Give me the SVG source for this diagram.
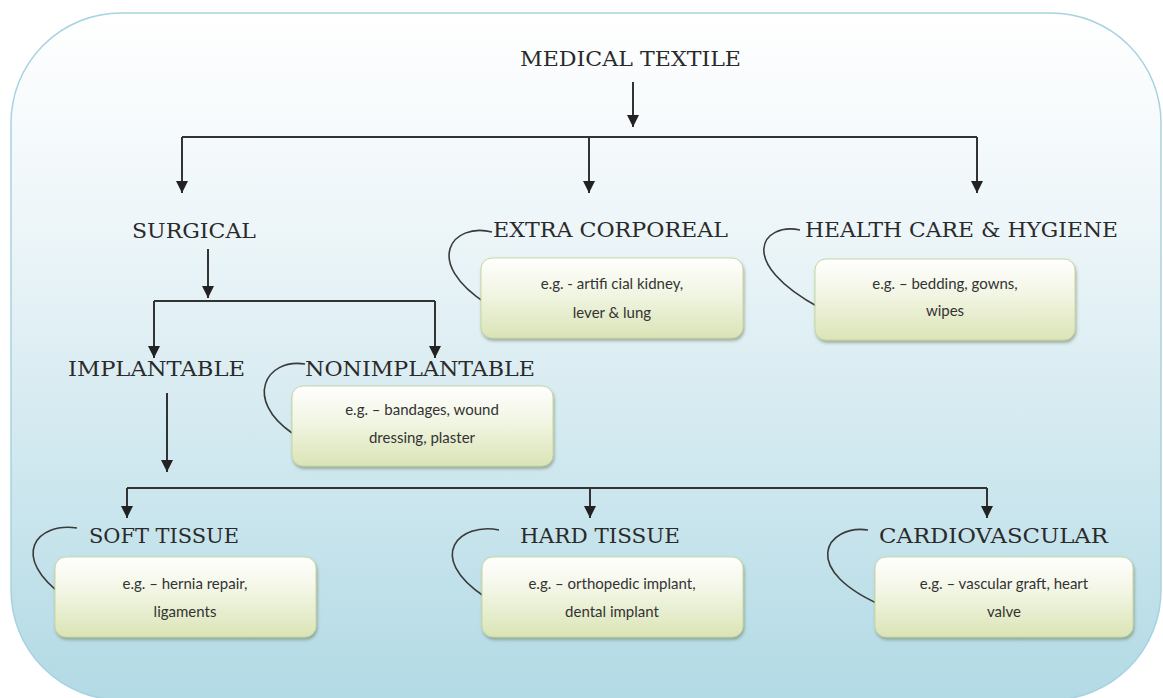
<svg xmlns="http://www.w3.org/2000/svg" width="1163" height="698" viewBox="0 0 1163 698">
<defs>
<linearGradient id="bg" x1="0" y1="0" x2="0" y2="1">
<stop offset="0" stop-color="#ffffff"/>
<stop offset="0.3" stop-color="#eef6f9"/>
<stop offset="1" stop-color="#b2dae5"/>
</linearGradient>
<linearGradient id="boxg" x1="0" y1="0" x2="0" y2="1">
<stop offset="0" stop-color="#ffffff"/>
<stop offset="0.45" stop-color="#f1f5e2"/>
<stop offset="1" stop-color="#dbe4b6"/>
</linearGradient>
<filter id="sh" x="-10%" y="-10%" width="120%" height="130%">
<feDropShadow dx="1" dy="2.5" stdDeviation="1.5" flood-color="#6a7a5a" flood-opacity="0.55"/>
</filter>
<marker id="ah" viewBox="0 0 12 12" refX="12" refY="6" markerWidth="12" markerHeight="12" markerUnits="userSpaceOnUse" orient="auto">
<path d="M0 0 L12 6 L0 12 Z" fill="#222"/>
</marker>
<style>
.t{font-family:"DejaVu Serif","Liberation Serif",serif;font-size:20px;fill:#2a2a2a;}
.b{font-family:Lato,"Open Sans",sans-serif;font-size:15px;fill:#333;text-anchor:middle;}
.box{fill:url(#boxg);stroke:#c8d7a2;stroke-width:1;filter:url(#sh);}
.c{fill:none;stroke:#333;stroke-width:2;}
.a{fill:none;stroke:#333;stroke-width:2;marker-end:url(#ah);}
.sw{fill:none;stroke:#3a3a3a;stroke-width:1.6;}
</style>
</defs>
<rect x="11" y="13" width="1150" height="687" rx="110" ry="110" fill="url(#bg)" stroke="#a6d3df" stroke-width="1.5"/>

<g id="connectors">
<path class="a" d="M633 82 V127"/>
<path class="c" d="M182 137 H977"/>
<path class="a" d="M182 137 V193"/>
<path class="a" d="M589 137 V193"/>
<path class="a" d="M977 137 V193"/>
<path class="a" d="M208 249 V298"/>
<path class="c" d="M154 301 H435"/>
<path class="a" d="M154 301 V358"/>
<path class="a" d="M435 301 V358"/>
<path class="a" d="M167 393 V472"/>
<path class="c" d="M127 488 H987"/>
<path class="a" d="M127 488 V518"/>
<path class="a" d="M590 488 V518"/>
<path class="a" d="M987 488 V518"/>
<path class="sw" d="M492 232 C452 222, 422 262, 487 304"/>
<path class="sw" d="M800 230 C762 222, 735 262, 820 308"/>
<path class="sw" d="M305 364 C265 358, 244 400, 292 433"/>
<path class="sw" d="M77 528 C37 522, 8 556, 65 597"/>
<path class="sw" d="M499 530 C460 522, 424 556, 485 597"/>
<path class="sw" d="M868 530 C827 524, 795 570, 888 608"/>
</g>

<g id="medical-textile"><text class="t" x="520" y="66" textLength="221" lengthAdjust="spacingAndGlyphs">MEDICAL TEXTILE</text></g>
<g id="surgical"><text class="t" x="132" y="238" textLength="124" lengthAdjust="spacingAndGlyphs">SURGICAL</text></g>
<g id="extra-corporeal">
<text class="t" x="493" y="237" textLength="235" lengthAdjust="spacingAndGlyphs">EXTRA CORPOREAL</text>
<rect class="box" x="481" y="258" width="262" height="80" rx="11"/>
<text class="b" x="612" y="289">e.g. - artifi cial kidney,</text>
<text class="b" x="612" y="318">lever &amp; lung</text>
</g>
<g id="health-care">
<text class="t" x="805" y="237" textLength="313" lengthAdjust="spacingAndGlyphs">HEALTH CARE &amp; HYGIENE</text>
<rect class="box" x="815" y="259" width="260" height="81" rx="11"/>
<text class="b" x="945" y="289">e.g. – bedding, gowns,</text>
<text class="b" x="945" y="316">wipes</text>
</g>
<g id="implantable"><text class="t" x="68" y="376" textLength="177" lengthAdjust="spacingAndGlyphs">IMPLANTABLE</text></g>
<g id="nonimplantable">
<text class="t" x="305" y="376" textLength="230" lengthAdjust="spacingAndGlyphs">NONIMPLANTABLE</text>
<rect class="box" x="292" y="386" width="261" height="80" rx="11"/>
<text class="b" x="422" y="415">e.g. – bandages, wound</text>
<text class="b" x="422" y="443">dressing, plaster</text>
</g>
<g id="soft-tissue">
<text class="t" x="89" y="543" textLength="150" lengthAdjust="spacingAndGlyphs">SOFT TISSUE</text>
<rect class="box" x="55" y="557" width="261" height="80" rx="11"/>
<text class="b" x="185" y="589">e.g. – hernia repair,</text>
<text class="b" x="185" y="617">ligaments</text>
</g>
<g id="hard-tissue">
<text class="t" x="520" y="543" textLength="160" lengthAdjust="spacingAndGlyphs">HARD TISSUE</text>
<rect class="box" x="482" y="557" width="261" height="80" rx="11"/>
<text class="b" x="612" y="589">e.g. – orthopedic implant,</text>
<text class="b" x="612" y="617">dental implant</text>
</g>
<g id="cardiovascular">
<text class="t" x="879" y="543" textLength="229" lengthAdjust="spacingAndGlyphs">CARDIOVASCULAR</text>
<rect class="box" x="875" y="557" width="258" height="80" rx="11"/>
<text class="b" x="1004" y="589">e.g. – vascular graft, heart</text>
<text class="b" x="1004" y="617">valve</text>
</g>
</svg>
